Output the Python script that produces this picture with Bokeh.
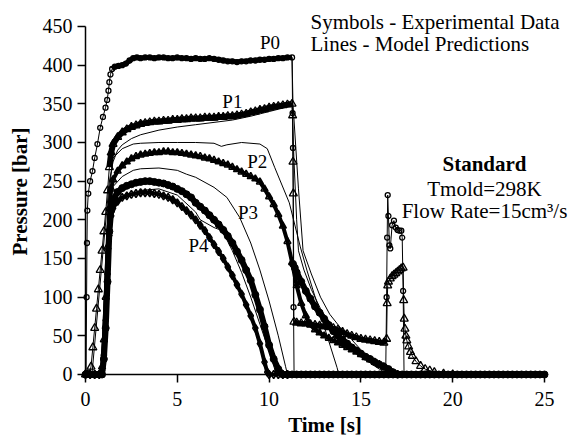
from bokeh.plotting import figure
from bokeh.models import Range1d, Label, FixedTicker
from bokeh.embed import file_html
from bokeh.resources import INLINE

# ---------------- data ----------------
x_ticks = [0, 5, 10, 15, 20, 25]
y_ticks = [0, 50, 100, 150, 200, 250, 300, 350, 400, 450]

# P0 - experimental (open circles)
t_p0 = [0, 0.03, 0.06, 0.08, 0.1, 0.15, 0.25, 0.38, 0.5, 0.65, 0.8, 0.95, 1.09, 1.18, 1.25, 1.3, 1.36, 1.45,
        1.6, 1.8, 2.0, 2.2, 2.4, 2.6, 2.8, 3.0, 3.25, 3.5, 3.75, 4.0, 4.25, 4.5, 4.75, 5.0, 5.25, 5.5, 5.75,
        6.0, 6.25, 6.5, 6.75, 7.0, 7.25, 7.5, 7.75, 8.0, 8.25, 8.5, 8.75, 9.0, 9.25, 9.5, 9.75, 10.0, 10.25,
        10.5, 10.75, 11.0, 11.25, 11.28, 11.3, 11.33, 11.36, 11.5, 11.75, 12.0, 12.25, 12.5, 12.75, 13.0,
        13.25, 13.5, 13.75, 14.0, 14.25, 14.5, 14.75, 15.0, 15.25, 15.5, 15.75, 16.0, 16.25, 16.35, 16.4,
        16.43, 16.46, 16.5, 16.55, 16.6, 16.7, 16.8, 16.9, 17.0, 17.1, 17.2, 17.25, 17.3, 17.35, 17.5, 17.75,
        18.0, 18.25, 18.5, 18.75, 19.0, 19.25, 19.5, 19.75, 20.0, 20.25, 20.5, 20.75, 21.0, 21.25, 21.5,
        21.75, 22.0, 22.25, 22.5, 22.75, 23.0, 23.25, 23.5, 23.75, 24.0, 24.25, 24.5, 24.75, 25.0]
p_p0 = [0, 0, 100, 170, 212, 234, 250, 263, 280, 298, 319, 333, 345, 355, 367, 378, 388, 395,
        398, 399, 400, 402, 406, 409, 410, 409, 410, 410, 409, 410, 410, 409, 409, 410, 409, 409, 408,
        409, 408, 408, 409, 408, 407, 406, 405, 405, 404, 405, 405, 406, 406, 407, 407, 408, 408,
        409, 409, 410, 410, 338, 293, 87, 0, 0, 0, 0, 0, 0, 0, 0,
        0, 0, 0, 0, 0, 0, 0, 0, 0, 0, 0, 0, 0, 0, 100,
        177, 232, 205, 167, 163, 193, 199, 190, 187, 186, 186, 177, 108, 0, 0, 0,
        0, 0, 0, 0, 0, 0, 0, 0, 0, 0, 0, 0, 0, 0,
        0, 0, 0, 0, 0, 0, 0, 0, 0, 0, 0, 0, 0, 0]

# P1 - experimental (open triangles)
t_p1 = [0, 0.1, 0.2, 0.3, 0.4, 0.5, 0.6, 0.7, 0.8, 0.9, 1.0, 1.1, 1.2, 1.3, 1.4, 1.5, 1.75, 2.0, 2.25,
        2.5, 2.75, 3.0, 3.25, 3.5, 3.75, 4.0, 4.25, 4.5, 4.75, 5.0, 5.25, 5.5, 5.75, 6.0, 6.25, 6.5, 6.75,
        7.0, 7.25, 7.5, 7.75, 8.0, 8.25, 8.5, 8.75, 9.0, 9.25, 9.5, 9.75, 10.0, 10.25, 10.5, 10.75, 11.0,
        11.25, 11.28, 11.3, 11.32, 11.35, 11.5, 11.75, 12.0, 12.25, 12.5, 12.75, 13.0, 13.25, 13.5, 13.75,
        14.0, 14.25, 14.5, 14.75, 15.0, 15.25, 15.5, 15.75, 16.0, 16.25, 16.4, 16.43, 16.46, 16.5, 16.6,
        16.7, 16.8, 16.9, 17.0, 17.1, 17.2, 17.3, 17.33, 17.36, 17.4, 17.45, 17.5, 17.6, 17.7, 17.8, 18.0,
        18.25, 18.5, 18.75, 19.0, 19.5, 20.0]
p_p1 = [0, 0, 0, 10, 35, 60, 85, 110, 135, 160, 185, 210, 238, 268, 287, 298, 307, 313, 317,
        320, 322, 324, 325, 326, 327, 327, 328, 328, 329, 329, 330, 330, 331, 331, 331, 332, 332,
        332, 333, 333, 334, 334, 335, 336, 337, 339, 340, 342, 343, 345, 346, 347, 348, 349,
        350, 335, 275, 234, 68, 67, 66, 66, 65, 64, 63, 62, 61, 60, 58,
        55, 52, 50, 48, 46, 45, 44, 43, 42, 41, 46, 92, 115, 120, 124,
        127, 129, 131, 133, 135, 137, 138, 96, 72, 59, 50, 44, 36, 29, 24, 17,
        11, 7, 5, 3, 1, 0]

# P2 - experimental (open triangles)
t_p2 = [0, 0.25, 0.5, 0.75, 0.85, 0.9, 1.0, 1.1, 1.2, 1.3, 1.4, 1.5, 1.75, 2.0, 2.25, 2.5, 2.75, 3.0,
        3.25, 3.5, 3.75, 4.0, 4.25, 4.5, 4.75, 5.0, 5.25, 5.5, 5.75, 6.0, 6.25, 6.5, 6.75, 7.0, 7.25, 7.5,
        7.75, 8.0, 8.25, 8.5, 8.75, 9.0, 9.25, 9.5, 9.75, 10.0, 10.25, 10.5, 10.75, 11.0, 11.25, 11.5,
        11.75, 12.0, 12.25, 12.5, 12.75, 13.0, 13.25, 13.5, 13.75, 14.0, 14.25, 14.5, 14.75, 15.0, 15.25,
        15.5, 15.75, 16.0, 16.25, 16.5, 16.75, 17.0]
p_p2 = [0, 0, 0, 0, 0, 10, 45, 100, 165, 215, 240, 252, 263, 270, 275, 279, 282, 284,
        285, 286, 287, 287, 288, 288, 287, 287, 286, 285, 284, 283, 282, 280, 279, 277, 275, 273,
        271, 268, 265, 262, 259, 256, 253, 249, 240, 230, 220, 207, 192, 172, 145, 115,
        92, 76, 64, 58, 54, 50, 47, 44, 41, 38, 35, 32, 29, 26, 22,
        19, 16, 13, 10, 5, 1, 0]

# P2 - second branch after the 11.3 s kink (dense band)
t_p2b = [11.3, 11.4, 11.5, 11.75, 12.0, 12.25, 12.5, 12.75, 13.0, 13.25, 13.5, 13.75, 14.0, 14.25, 14.5,
         14.75, 15.0, 15.25, 15.5, 15.75, 16.0, 16.25, 16.5, 16.75, 17.0]
p_p2b = [143, 138, 132, 120, 108, 98, 88, 80, 72, 64, 56, 50, 45, 40, 35,
         31, 27, 23, 20, 16, 13, 10, 7, 3, 0]

# P3 - experimental (filled circles)
t_p3 = [0, 0.25, 0.5, 0.75, 0.9, 1.0, 1.1, 1.2, 1.3, 1.4, 1.5, 1.75, 2.0, 2.25, 2.5, 2.75, 3.0, 3.25,
        3.5, 3.75, 4.0, 4.25, 4.5, 4.75, 5.0, 5.25, 5.5, 5.75, 6.0, 6.25, 6.5, 6.75, 7.0, 7.25, 7.5, 7.75,
        8.0, 8.25, 8.5, 8.75, 9.0, 9.25, 9.5, 9.75, 10.0, 10.25, 10.5, 10.75, 11.0, 11.25, 11.5, 11.75,
        12.0, 12.25, 12.5, 12.75, 13.0, 13.25, 13.5, 13.75, 14.0, 14.25, 14.5, 14.75, 15.0, 15.25, 15.5,
        15.75, 16.0, 16.25, 16.5, 16.75, 17.0, 17.25, 17.5, 17.75, 18.0, 18.25, 18.5, 18.75, 19.0, 19.25,
        19.5, 19.75, 20.0, 20.25, 20.5, 20.75, 21.0, 21.25, 21.5, 21.75, 22.0, 22.25, 22.5, 22.75, 23.0,
        23.25, 23.5, 23.75, 24.0, 24.25, 24.5, 24.75, 25.0]
p_p3 = [0, 0, 0, 0, 0, 20, 60, 120, 185, 212, 226, 236, 241, 244, 246, 248, 249, 250,
        250, 249, 248, 247, 245, 243, 240, 237, 233, 229, 222, 217, 212, 206, 200, 194, 187, 179,
        170, 159, 148, 135, 122, 103, 84, 62, 38, 20, 7, 0, 0, 0, 0, 0,
        0, 0, 0, 0, 0, 0, 0, 0, 0, 0, 0, 0, 0, 0, 0,
        0, 0, 0, 0, 0, 0, 0, 0, 0, 0, 0, 0, 0, 0, 0,
        0, 0, 0, 0, 0, 0, 0, 0, 0, 0, 0, 0, 0, 0, 0,
        0, 0, 0, 0, 0, 0, 0, 0]

# P4 - experimental (open diamonds)
t_p4 = [0, 0.25, 0.5, 0.75, 0.9, 1.0, 1.1, 1.2, 1.3, 1.4, 1.5, 1.75, 2.0, 2.25, 2.5, 2.75, 3.0, 3.25,
        3.5, 3.75, 4.0, 4.25, 4.5, 4.75, 5.0, 5.25, 5.5, 5.75, 6.0, 6.25, 6.5, 6.75, 7.0, 7.25, 7.5, 7.75,
        8.0, 8.25, 8.5, 8.75, 9.0, 9.25, 9.5, 9.75, 9.9, 10.0, 10.25, 10.5, 10.75, 11.0]
p_p4 = [0, 0, 0, 0, 5, 25, 70, 130, 180, 205, 215, 224, 229, 231, 233, 234, 235, 235,
        235, 234, 233, 231, 229, 226, 222, 217, 212, 206, 200, 193, 186, 177, 168, 159, 150, 139,
        128, 116, 104, 90, 76, 60, 40, 16, 3, 0, 0, 0, 0, 0]

# Model predictions (thin lines)
t_m0 = [11.25, 11.3, 11.6, 11.85, 12.3, 12.8, 13.3, 13.9, 14.5, 15.0, 15.5, 16.0, 16.5, 17.0]
p_m0 = [410, 350, 240, 160, 130, 100, 78, 60, 45, 32, 20, 10, 3, 0]

t_m1 = [0.35, 1.3, 1.5, 1.75, 2.0, 2.5, 3.0, 4.0, 5.0, 6.0, 7.0, 8.0, 9.0, 10.0, 11.0, 11.25, 11.35,
        11.5, 11.6, 11.9, 12.3, 12.8, 13.3, 13.9, 14.5, 15.0, 15.5, 16.0, 16.5]
p_m1 = [0, 250, 275, 290, 297, 305, 310, 316, 320, 323, 326, 329, 334, 340, 346, 348, 280,
        200, 160, 135, 110, 85, 65, 50, 36, 25, 15, 7, 0]

t_m2 = [0.85, 1.1, 1.3, 1.5, 2.0, 2.6, 3.0, 4.0, 5.0, 6.0, 7.0, 7.4, 7.7, 8.5, 9.5, 9.9, 10.3, 10.7,
        11.1, 11.7, 12.07, 13.0, 13.7, 13.8]
p_m2 = [0, 150, 240, 280, 292, 298, 299, 300, 300, 300, 299, 295, 297, 300, 298, 292, 268, 245,
        222, 165, 134, 62, 9, 0]

t_m3 = [0.9, 1.1, 1.35, 1.5, 2.0, 2.6, 3.0, 4.0, 5.0, 5.5, 6.0, 7.0, 7.7, 8.4, 9.0, 9.5, 10.0, 10.5,
        10.9, 11.0]
p_m3 = [0, 110, 220, 243, 256, 264, 266, 267, 264, 259, 255, 242, 229, 203, 170, 135, 95, 50,
        10, 0]

t_m4 = [0.9, 1.1, 1.3, 1.5, 2.0, 3.0, 4.0, 5.0, 6.0, 6.25, 7.0, 7.45, 8.0, 8.5, 9.0, 9.5, 10.0, 10.4]
p_m4 = [0, 100, 190, 213, 228, 238, 240, 232, 210, 200, 190, 186, 160, 132, 100, 65, 30, 0]

# Annotations
curve_labels = ["P0", "P1", "P2", "P3", "P4"]
label_t = [10.05, 8.0, 9.35, 8.85, 6.15]
label_p = [429, 353, 276, 209, 167]
note_lines = ["Symbols - Experimental Data", "Lines - Model Predictions"]
case_lines = ["Standard", "Tmold=298K", "Flow Rate=15cm\u00b3/s"]

FONT = "Liberation Serif"

# frame reaches the right and top edges so the notes are not clipped;
# the axis lines themselves are drawn only over 0-25 s and 0-450 bar
p = figure(width=570, height=440, output_backend="svg", toolbar_location=None,
           x_range=Range1d(-0.327, 26.416), y_range=Range1d(-10.35, 483.6),
           min_border_left=79, min_border_right=0, min_border_top=0, min_border_bottom=58)
p.outline_line_color = None
p.xgrid.visible = False
p.ygrid.visible = False
p.background_fill_color = "white"
p.border_fill_color = "white"

for ax in (p.xaxis[0], p.yaxis[0]):
    ax.axis_line_color = None
    ax.major_tick_line_color = "black"
    ax.major_tick_line_width = 1.5
    ax.minor_tick_out = 0
    ax.minor_tick_in = 0
    ax.major_label_text_font = FONT
    ax.major_label_text_font_size = "20px"
    ax.major_label_text_color = "black"
    ax.axis_label_text_font = FONT
    ax.axis_label_text_font_size = "21px"
    ax.axis_label_text_font_style = "bold"
    ax.axis_label_text_color = "black"

p.xaxis.ticker = FixedTicker(ticks=x_ticks)
p.yaxis.ticker = FixedTicker(ticks=y_ticks)
p.xaxis.major_tick_in = 8
p.xaxis.major_tick_out = 0
p.yaxis.major_tick_in = 6
p.yaxis.major_tick_out = 2
p.xaxis.axis_label = "Time [s]"
p.yaxis.axis_label = "Pressure [bar]"
p.xaxis.major_label_standoff = 9
p.yaxis.major_label_standoff = 5
p.xaxis.axis_label_standoff = 4
p.yaxis.axis_label_standoff = 8

# axis lines over the data extent
p.line([x_ticks[0], x_ticks[-1]], [y_ticks[0], y_ticks[0]], line_color="black", line_width=1.5)
p.line([x_ticks[0], x_ticks[0]], [y_ticks[0], y_ticks[-1]], line_color="black", line_width=1.5)

# model lines
for tm, pm in [(t_m0, p_m0), (t_m1, p_m1), (t_m2, p_m2), (t_m3, p_m3), (t_m4, p_m4)]:
    p.line(tm, pm, line_color="black", line_width=1)

# experimental data: dense symbols appear as a solid band
p.line(t_p4, p_p4, line_color="black", line_width=4)
p.line(t_p3, p_p3, line_color="black", line_width=6)
p.line(t_p2, p_p2, line_color="black", line_width=4)
p.line(t_p2b, p_p2b, line_color="black", line_width=6)
p.line(t_p1[13:55], p_p1[13:55], line_color="black", line_width=6)
p.line(t_p1[58:80], p_p1[58:80], line_color="black", line_width=5)
p.line(t_p1, p_p1, line_color="black", line_width=1)
p.line(t_p0[17:59], p_p0[17:59], line_color="black", line_width=5)
p.line(t_p0, p_p0, line_color="black", line_width=1)

p.scatter(t_p4, p_p4, marker="diamond", size=8, fill_color="white", fill_alpha=0,
          line_color="black", line_width=1.5)
p.scatter(t_p3, p_p3, marker="circle", size=7, fill_color="black", line_color="black", line_width=1)
p.scatter(t_p2, p_p2, marker="triangle", size=7, fill_color="white", fill_alpha=0,
          line_color="black", line_width=1.5)
p.scatter(t_p2b, p_p2b, marker="circle", size=7, fill_color="black", line_color="black", line_width=1)
p.scatter(t_p1, p_p1, marker="triangle", size=8, fill_color="white", fill_alpha=0,
          line_color="black", line_width=1.3)
p.scatter(t_p0, p_p0, marker="circle", size=5, fill_color="white", fill_alpha=0,
          line_color="black", line_width=1.3)

for txt, tx, ty in zip(curve_labels, label_t, label_p):
    p.add_layout(Label(x=tx, y=ty, text=txt, text_font=FONT, text_font_size="19px",
                       text_align="center", text_baseline="middle", text_color="black"))

# notes (screen units are measured from the frame's bottom-left corner)
p.add_layout(Label(x=231, y=361, x_units="screen", y_units="screen", text=note_lines[0],
                   text_font=FONT, text_font_size="21px", text_baseline="middle", text_color="black"))
p.add_layout(Label(x=231, y=339, x_units="screen", y_units="screen", text=note_lines[1],
                   text_font=FONT, text_font_size="21px", text_baseline="middle", text_color="black"))
p.add_layout(Label(x=405, y=219, x_units="screen", y_units="screen", text=case_lines[0],
                   text_font=FONT, text_font_size="21px", text_font_style="bold",
                   text_align="center", text_baseline="middle", text_color="black"))
p.add_layout(Label(x=405, y=194, x_units="screen", y_units="screen", text=case_lines[1],
                   text_font=FONT, text_font_size="21px",
                   text_align="center", text_baseline="middle", text_color="black"))
p.add_layout(Label(x=405, y=172, x_units="screen", y_units="screen", text=case_lines[2],
                   text_font=FONT, text_font_size="21px",
                   text_align="center", text_baseline="middle", text_color="black"))

open("out.html", "w").write(file_html(p, INLINE))
